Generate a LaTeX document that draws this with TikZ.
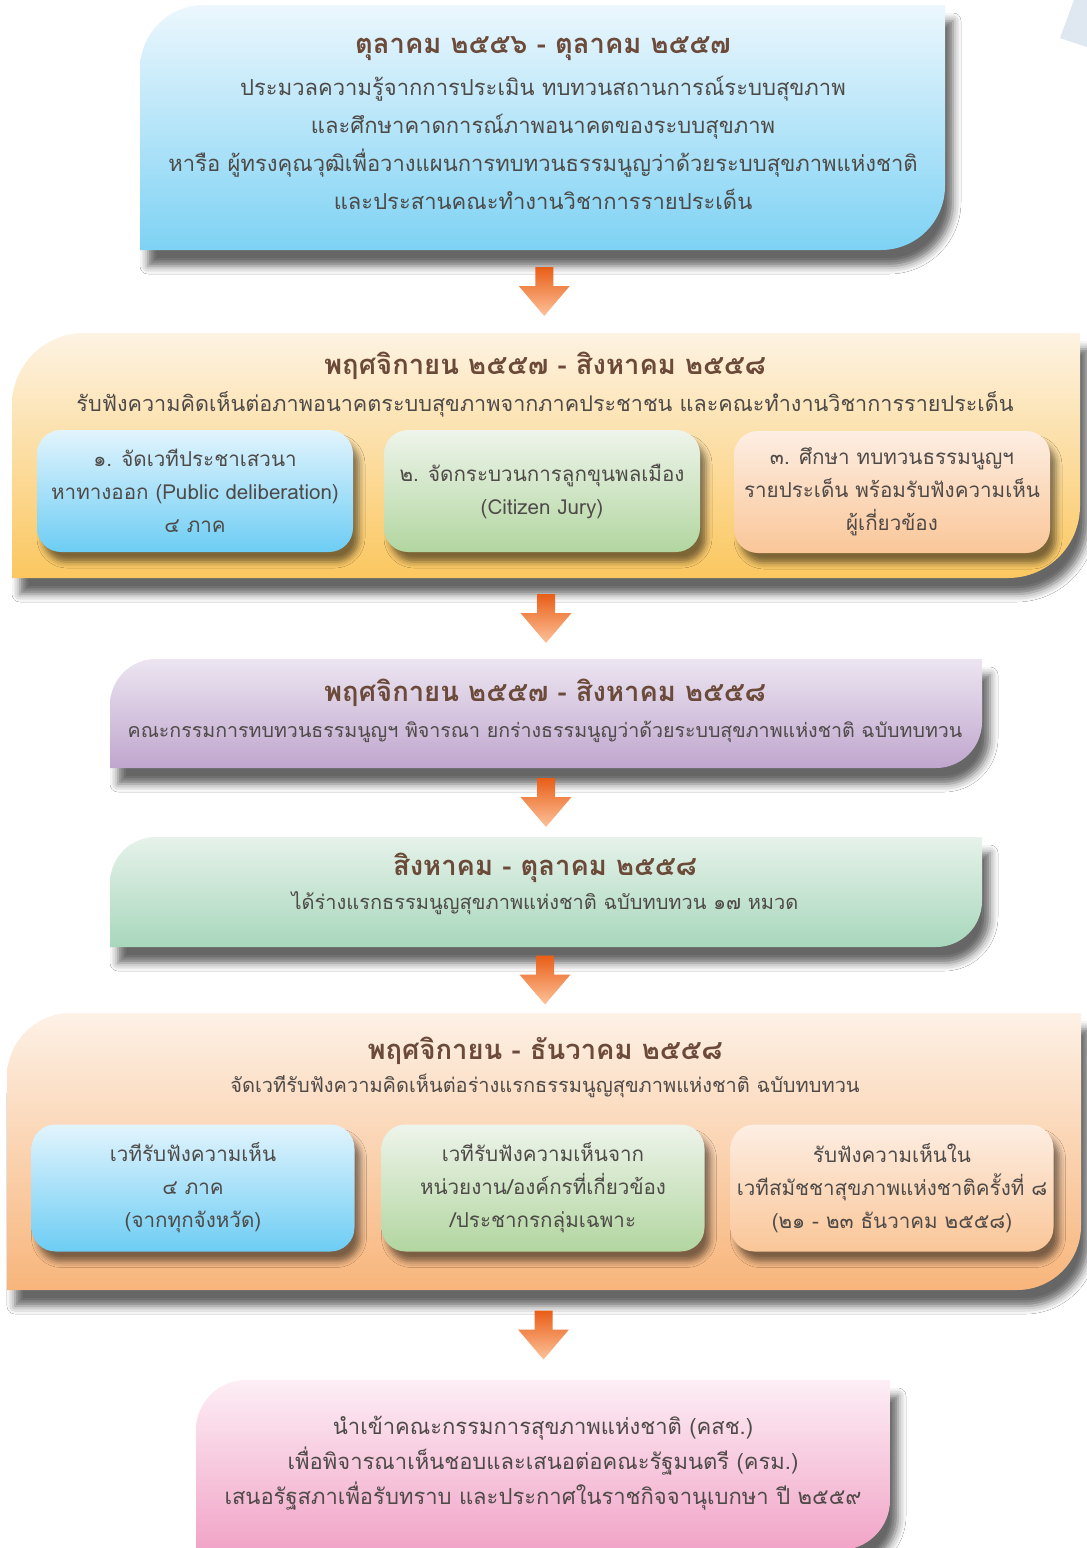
\documentclass[tikz,border=0pt]{standalone}
\usepackage{fontspec}
\newfontfamily\thaifont[Script=Thai]{Loma}
\usetikzlibrary{fit,calc,shadows.blur}

% colours
\definecolor{titlebrown}{HTML}{6B4A3A}
\definecolor{bodygray}{HTML}{4E4A48}
\definecolor{skytop}{HTML}{ECF7FD}
\definecolor{skybot}{HTML}{7ED2F4}
\definecolor{goldtop}{HTML}{FDF3E3}
\definecolor{goldbot}{HTML}{FBC75F}
\definecolor{liltop}{HTML}{ECE5F1}
\definecolor{lilbot}{HTML}{C0A6CE}
\definecolor{minttop}{HTML}{E6F2EA}
\definecolor{mintbot}{HTML}{A8D7BC}
\definecolor{peachtop}{HTML}{FDF1E6}
\definecolor{peachbot}{HTML}{F8B57B}
\definecolor{pinktop}{HTML}{FDEEF5}
\definecolor{pinkbot}{HTML}{F1A4C7}
\definecolor{bluetop}{HTML}{E2F4FD}
\definecolor{bluebot}{HTML}{6DCDF4}
\definecolor{greentop}{HTML}{EEF4EB}
\definecolor{greenbot}{HTML}{B2D6A0}
\definecolor{aprtop}{HTML}{FDEEE3}
\definecolor{aprbot}{HTML}{FAC698}
\definecolor{arrtop}{HTML}{E85E17}
\definecolor{arrbot}{HTML}{FDC29A}
\definecolor{decoblue}{HTML}{DFE8F1}

\tikzset{
  stagearea/.style={inner sep=0pt, outer sep=0pt},
  stage/.style={blur shadow={shadow xshift=4pt, shadow yshift=-8pt,
      shadow blur radius=4pt, shadow opacity=60}},
  headline/.style={font=\thaifont\bfseries\fontsize{13.7}{17}\selectfont, text=titlebrown},
  bodyline/.style={font=\thaifont\fontsize{11}{18.9}\selectfont, text=bodygray, align=center},
  smallline/.style={bodyline, font=\thaifont\fontsize{10}{17}\selectfont},
  subbox/.style={rounded corners=12pt, align=center, inner sep=0pt,
      minimum width=158pt, minimum height=61pt, text=bodygray,
      font=\thaifont\fontsize{10.3}{16.5}\selectfont,
      blur shadow={shadow xshift=3pt, shadow yshift=-5pt, shadow blur radius=3pt, shadow opacity=50}},
  bluebox/.style={subbox, top color=bluetop, bottom color=bluebot},
  greenbox/.style={subbox, top color=greentop, bottom color=greenbot},
  apricotbox/.style={subbox, top color=aprtop, bottom color=aprbot},
}

% box with rounded top-left and bottom-right corners
\newcommand\stageshape[3]{%
  \path[stage, top color=#2top, bottom color=#2bot]
    (#1.south west) -- ([yshift=-#3]#1.north west)
    arc[start angle=180, end angle=90, radius=#3] -- (#1.north east)
    -- ([yshift=#3]#1.south east)
    arc[start angle=0, end angle=-90, radius=#3] -- cycle;}

% block arrow between two stages
\newcommand\flowarrow[2]{%
  \shade[top color=arrtop, bottom color=arrbot]
    ($(#1.south)!0.5!(#2.north)$) ++(-9,24.5) -- ++(0,-19) -- ++(-16.5,0)
    -- ++(25.5,-30) -- ++(25.5,30) -- ++(-16.5,0) -- ++(0,19) -- cycle;}

\begin{document}
\begin{tikzpicture}[x=0.5pt,y=0.5pt]
\useasboundingbox (0,0) rectangle (1087,-1548);
\fill[white] (0,0) rectangle (1087,-1548);
\fill[decoblue] (1074,0) -- (1087,0) -- (1087,-47) -- (1060,-38) -- cycle;

% Etape 1
\node[stagearea, fit={(140,-5) (945,-250)}] (s1) {};
\stageshape{s1}{sky}{32pt}
\node[headline] (t1) at (543,-49) {ตุลาคม ๒๕๕๖ - ตุลาคม ๒๕๕๗};
\node[bodyline] (d1) at (543,-143) {ประมวลความรู้จากการประเมิน ทบทวนสถานการณ์ระบบสุขภาพ\\
  และศึกษาคาดการณ์ภาพอนาคตของระบบสุขภาพ\\
  หารือ ผู้ทรงคุณวุฒิเพื่อวางแผนการทบทวนธรรมนูญว่าด้วยระบบสุขภาพแห่งชาติ\\
  และประสานคณะทำงานวิชาการรายประเด็น};

% Etape 2
\node[stagearea, fit={(12,-333) (1080,-578)}] (s2) {};
\stageshape{s2}{gold}{36pt}
\node[headline] (t2) at (545,-366) {พฤศจิกายน ๒๕๕๗ - สิงหาคม ๒๕๕๘};
\node[bodyline, font=\thaifont\fontsize{10.8}{17}\selectfont] (d2) at (545,-404) {รับฟังความคิดเห็นต่อภาพอนาคตระบบสุขภาพจากภาคประชาชน และคณะทำงานวิชาการรายประเด็น};
\node[bluebox] (p1) at (195,-491) {๑. จัดเวทีประชาเสวนา\\ หาทางออก (Public deliberation)\\ ๔ ภาค};
\node[greenbox] (p2) at (542,-491) {๒. จัดกระบวนการลูกขุนพลเมือง\\ (Citizen Jury)};
\node[apricotbox] (p3) at (892,-492) {๓. ศึกษา ทบทวนธรรมนูญฯ\\ รายประเด็น พร้อมรับฟังความเห็น\\ ผู้เกี่ยวข้อง};

% Etape 3
\node[stagearea, fit={(110,-659) (982,-768)}] (s3) {};
\stageshape{s3}{lil}{23pt}
\node[headline] (t3) at (545,-693) {พฤศจิกายน ๒๕๕๗ - สิงหาคม ๒๕๕๘};
\node[smallline, font=\thaifont\fontsize{9.8}{17}\selectfont] (d3) at (545,-732) {คณะกรรมการทบทวนธรรมนูญฯ พิจารณา ยกร่างธรรมนูญว่าด้วยระบบสุขภาพแห่งชาติ ฉบับทบทวน};

% Etape 4
\node[stagearea, fit={(110,-837) (982,-947)}] (s4) {};
\stageshape{s4}{mint}{23pt}
\node[headline] (t4) at (545,-868) {สิงหาคม - ตุลาคม ๒๕๕๘};
\node[smallline] (d4) at (545,-903) {ได้ร่างแรกธรรมนูญสุขภาพแห่งชาติ ฉบับทบทวน ๑๗ หมวด};

% Etape 5
\node[stagearea, fit={(7,-1013) (1081,-1290)}] (s5) {};
\stageshape{s5}{peach}{32pt}
\node[headline] (t5) at (545,-1051) {พฤศจิกายน - ธันวาคม ๒๕๕๘};
\node[smallline] (d5) at (545,-1086) {จัดเวทีรับฟังความคิดเห็นต่อร่างแรกธรรมนูญสุขภาพแห่งชาติ ฉบับทบทวน};
\node[bluebox, minimum height=63.5pt, minimum width=161.5pt] (q1) at (193,-1188) {เวทีรับฟังความเห็น\\ ๔ ภาค\\ (จากทุกจังหวัด)};
\node[greenbox, minimum height=63.5pt, minimum width=161.5pt] (q2) at (543,-1188) {เวทีรับฟังความเห็นจาก\\ หน่วยงาน/องค์กรที่เกี่ยวข้อง\\ /ประชากรกลุ่มเฉพาะ};
\node[apricotbox, minimum height=63.5pt, minimum width=161.5pt] (q3) at (892,-1188) {รับฟังความเห็นใน\\ เวทีสมัชชาสุขภาพแห่งชาติครั้งที่ ๘\\ (๒๑ - ๒๓ ธันวาคม ๒๕๕๘)};

% Etape 6
\node[stagearea, fit={(196,-1380) (890,-1550)}] (s6) {};
\stageshape{s6}{pink}{25pt}
\node[bodyline, font=\thaifont\fontsize{11}{17.5}\selectfont] (d6) at (543,-1463) {นำเข้าคณะกรรมการสุขภาพแห่งชาติ (คสช.)\\
  เพื่อพิจารณาเห็นชอบและเสนอต่อคณะรัฐมนตรี (ครม.)\\
  เสนอรัฐสภาเพื่อรับทราบ และประกาศในราชกิจจานุเบกษา ปี ๒๕๕๙};

% Fleches
\flowarrow{s1}{s2}
\flowarrow{s2}{s3}
\flowarrow{s3}{s4}
\flowarrow{s4}{s5}
\flowarrow{s5}{s6}

\end{tikzpicture}
\end{document}
